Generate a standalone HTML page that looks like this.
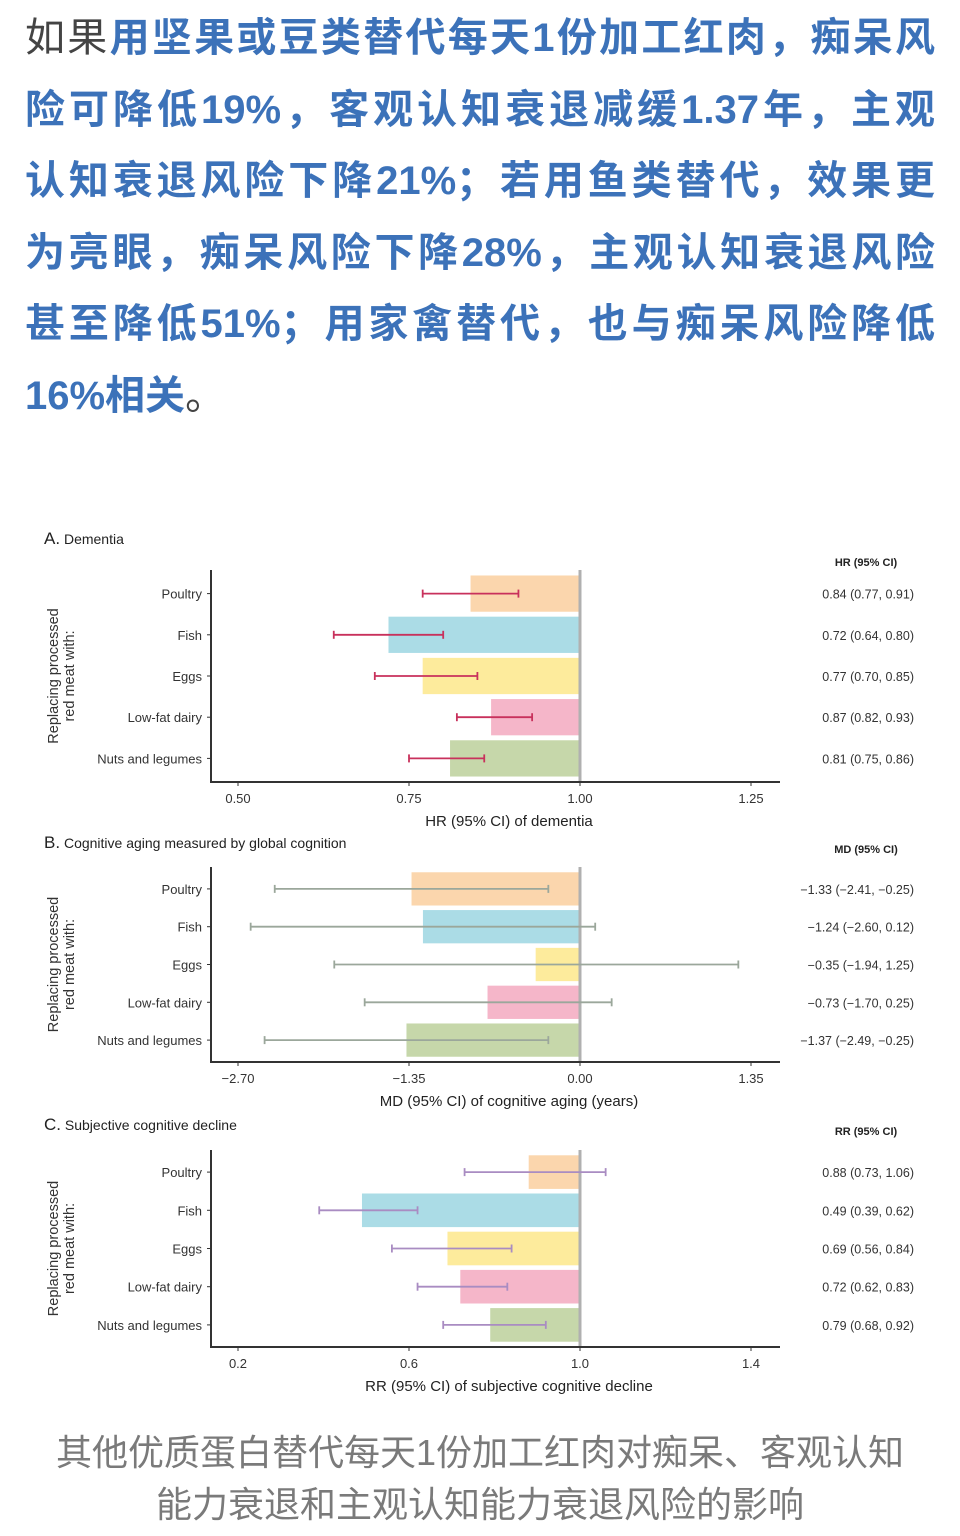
<!DOCTYPE html>
<html><head><meta charset="utf-8">
<style>
body{margin:0;width:960px;height:1536px;background:#fff;overflow:hidden;font-family:"Liberation Sans","Noto Sans CJK SC",sans-serif}
.para{position:absolute;left:25px;width:910px;top:0}
.ln{height:71.5px;line-height:76px;font-size:40px;font-weight:bold;color:#3c72b9;text-align:justify;text-align-last:justify;white-space:nowrap;font-family:"Liberation Sans","Noto Sans CJK SC",sans-serif}
.ln.last{text-align-last:left}
.gray{color:#444;font-weight:normal}
.cap{position:absolute;left:0;width:960px;top:1427px;text-align:center;color:#7a7a7a;font-size:36px;line-height:52px;font-family:"Liberation Sans","Noto Sans CJK SC",sans-serif}
svg{position:absolute;left:0;top:0}
svg text{font-family:"Liberation Sans",sans-serif}
</style></head><body>
<div class="para">
<div class="ln"><span class="gray">如果</span>用坚果或豆类替代每天1份加工红肉，痴呆风</div>
<div class="ln">险可降低19%，客观认知衰退减缓1.37年，主观</div>
<div class="ln">认知衰退风险下降21%；若用鱼类替代，效果更</div>
<div class="ln">为亮眼，痴呆风险下降28%，主观认知衰退风险</div>
<div class="ln">甚至降低51%；用家禽替代，也与痴呆风险降低</div>
<div class="ln last">16%相关<span class="gray" style="font-weight:normal">。</span></div>
</div>
<svg id="chart" width="960" height="1536"></svg>
<div class="cap">其他优质蛋白替代每天1份加工红肉对痴呆、客观认知<br>能力衰退和主观认知能力衰退风险的影响</div>
<script>
const categories=["Poultry","Fish","Eggs","Low-fat dairy","Nuts and legumes"];
const colors=["#fbd6ad","#abdce6","#fdeb9c","#f5b6c9","#c6d7aa"];
const hrEst=[0.84,0.72,0.77,0.87,0.81];
const hrLo=[0.77,0.64,0.70,0.82,0.75];
const hrHi=[0.91,0.80,0.85,0.93,0.86];
const hrTicks=[0.50,0.75,1.00,1.25];
const hrTickLabels=["0.50","0.75","1.00","1.25"];
const hrLabels=["0.84 (0.77, 0.91)","0.72 (0.64, 0.80)","0.77 (0.70, 0.85)","0.87 (0.82, 0.93)","0.81 (0.75, 0.86)"];
const mdEst=[-1.33,-1.24,-0.35,-0.73,-1.37];
const mdLo=[-2.41,-2.60,-1.94,-1.70,-2.49];
const mdHi=[-0.25,0.12,1.25,0.25,-0.25];
const mdTicks=[-2.70,-1.35,0,1.35];
const mdTickLabels=["-2.70","-1.35","0.00","1.35"];
const mdLabels=["-1.33 (-2.41, -0.25)","-1.24 (-2.60, 0.12)","-0.35 (-1.94, 1.25)","-0.73 (-1.70, 0.25)","-1.37 (-2.49, -0.25)"];
const rrEst=[0.88,0.49,0.69,0.72,0.79];
const rrLo=[0.73,0.39,0.56,0.62,0.68];
const rrHi=[1.06,0.62,0.84,0.83,0.92];
const rrTicks=[0.2,0.6,1.0,1.4];
const rrTickLabels=["0.2","0.6","1.0","1.4"];
const rrLabels=["0.88 (0.73, 1.06)","0.49 (0.39, 0.62)","0.69 (0.56, 0.84)","0.72 (0.62, 0.83)","0.79 (0.68, 0.92)"];

const svg=document.getElementById('chart');
const NS='http://www.w3.org/2000/svg';
function mk(tag,attrs,parent){const e=document.createElementNS(NS,tag);for(const k in attrs)e.setAttribute(k,attrs[k]);(parent||svg).appendChild(e);return e;}
function txt(s,attrs,parent){const e=mk('text',attrs,parent);e.textContent=s;return e;}

function panel(o){
  const g=mk('g',{});
  
  
  const x=v=>238+(v-o.t0)/(o.t1-o.t0)*(751-238);
  const step=(o.bottom-o.top-6)/5;
  const y=i=>o.top+3+step*(i+0.5);
  const bh=step*0.88;
  const tl=txt(o.letter,{x:44,y:o.titleY,'font-size':17,fill:'#222'},g);
  
  
  const ts=mk('tspan',{'font-size':14},tl);ts.textContent=' '+o.title;
  const hd=txt(o.header,{x:866,y:o.headerY,'font-size':11,'font-weight':'bold','text-anchor':'middle',fill:'#222'},g);
  
  
  for(let i=0;i<5;i++){
    const r=mk('rect',{x:Math.min(x(o.est[i]),x(o.ref)),y:y(i)-bh/2,width:Math.abs(x(o.ref)-x(o.est[i])),height:bh,fill:colors[i]},g);
    
    
  }
  const rl=mk('line',{x1:x(o.ref),x2:x(o.ref),y1:o.top,y2:o.bottom,stroke:'#b0b0b0','stroke-width':3},g);
  
  
  for(let i=0;i<5;i++){
    const eb=mk('g',{stroke:o.ec,'stroke-width':1.8},g);
    
    
    mk('line',{x1:x(o.lo[i]),x2:x(o.hi[i]),y1:y(i),y2:y(i)},eb);
    mk('line',{x1:x(o.lo[i]),x2:x(o.lo[i]),y1:y(i)-4,y2:y(i)+4},eb);
    mk('line',{x1:x(o.hi[i]),x2:x(o.hi[i]),y1:y(i)-4,y2:y(i)+4},eb);
    const cl=txt(categories[i],{x:202,y:y(i)+5,'font-size':13,'text-anchor':'end',fill:'#333'},g);
    
    
    mk('line',{x1:207,x2:211,y1:y(i),y2:y(i),stroke:'#333'},g);
    const vl=txt(o.labels[i].replace(/-/g,'\u2212'),{x:914,y:y(i)+5,'font-size':12.5,'text-anchor':'end',fill:'#333'},g);
    
    
  }
  const ax=mk('path',{d:`M211 ${o.top} V${o.bottom} H780`,fill:'none',stroke:'#333','stroke-width':2},g);
  
  
  o.ticks.forEach((t,j)=>{
    mk('line',{x1:x(t),x2:x(t),y1:o.bottom,y2:o.bottom+4,stroke:'#333'},g);
    const tt=txt(o.tickLabels[j].replace(/-/g,'\u2212'),{x:x(t),y:o.bottom+21,'font-size':13,'text-anchor':'middle',fill:'#333'},g);
    
    
  });
  const xt=txt(o.xtitle,{x:509,y:o.bottom+44,'font-size':15,'text-anchor':'middle',fill:'#222'},g);
  
  
  const cy=(o.top+o.bottom)/2;
  const yt=txt('',{transform:`translate(58 ${cy}) rotate(-90)`,'font-size':14.5,'text-anchor':'middle',fill:'#333'},g);
  
  
  const a=mk('tspan',{x:0,dy:0},yt);a.textContent='Replacing processed';
  const b=mk('tspan',{x:0,dy:16},yt);b.textContent='red meat with:';
}
panel({name:'panel-dementia',letter:'A.',title:'Dementia',titleY:544,header:'HR (95% CI)',headerY:566,top:570,bottom:782,t0:0.50,t1:1.25,ref:1,est:hrEst,lo:hrLo,hi:hrHi,ticks:hrTicks,tickLabels:hrTickLabels,labels:hrLabels,ec:'#c8315c',xtitle:'HR (95% CI) of dementia'});
panel({name:'panel-cognitive-aging',letter:'B.',title:'Cognitive aging measured by global cognition',titleY:848,header:'MD (95% CI)',headerY:853,top:867,bottom:1062,t0:-2.70,t1:1.35,ref:0,est:mdEst,lo:mdLo,hi:mdHi,ticks:mdTicks,tickLabels:mdTickLabels,labels:mdLabels,ec:'#9ba79b',xtitle:'MD (95% CI) of cognitive aging (years)'});
panel({name:'panel-subjective-decline',letter:'C.',title:'Subjective cognitive decline',titleY:1130,header:'RR (95% CI)',headerY:1135,top:1150,bottom:1347,t0:0.2,t1:1.4,ref:1,est:rrEst,lo:rrLo,hi:rrHi,ticks:rrTicks,tickLabels:rrTickLabels,labels:rrLabels,ec:'#a98cc2',xtitle:'RR (95% CI) of subjective cognitive decline'});
</script>
</body></html>
